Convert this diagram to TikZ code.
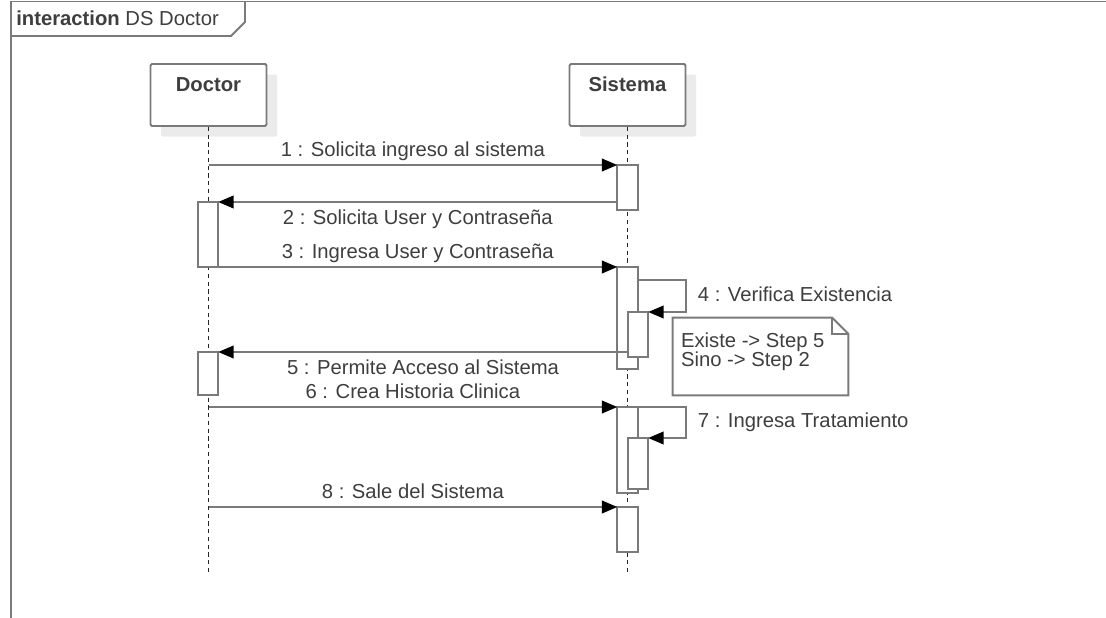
\documentclass[tikz,border=0pt]{standalone}
\usepackage{fontspec}
\setmainfont{Liberation Sans}
\usepackage{xcolor}
\usepackage{tikz}
\usetikzlibrary{arrows.meta}
\usetikzlibrary{shadows}

\definecolor{linegray}{RGB}{122,122,122}
\definecolor{textgray}{RGB}{62,62,62}
\newcommand{\pxu}{0.025cm}

\begin{document}
\begin{tikzpicture}[x=0.025cm, y=-0.025cm,
	font=\fontsize{14.4}{14}\selectfont, text=textgray,
	frame/.style={draw=linegray, line width=1.4pt},
	head/.style={draw=linegray, line width=1.4pt, fill=white, rounded corners=1pt, anchor=north,
		minimum width=116*\pxu, inner xsep=0pt, inner ysep=9.2pt, text height=10.7pt, text depth=15pt,
		drop shadow={shadow xshift=7.5pt, shadow yshift=-7.5pt, fill=black!8, opacity=1}},
	lifeline/.style={draw=black!85, line width=1.3pt, dash pattern=on 3pt off 2.5pt},
	act/.style={draw=linegray, line width=1.4pt, fill=white, anchor=north, inner sep=0pt, outer sep=0pt,
		minimum width=14.5pt, minimum height=#1*\pxu},
	msg/.style={draw=linegray, line width=1.4pt, -{Triangle[length=11pt, width=9pt, black]}},
	lbl/.style={inner sep=0pt, text height=10.5pt, text depth=3pt},
	notebox/.style={minimum width=175*\pxu, minimum height=77*\pxu, inner sep=0pt}]
	\useasboundingbox (0,0) rectangle (1106,618);

	\draw[frame] (11,618) -- (11,1.5) -- (1106,1.5);
	\draw[frame] (245,1.5) -- (245,22) -- (231,36) -- (11,36);
	\node[anchor=west, inner sep=0pt] (titulo) at (16,18) {\textbf{interaction} DS Doctor};

	\node[head] (doctor) at (208.5,63) {\textbf{Doctor}};
	\node[head] (sistema) at (627.5,63) {\textbf{Sistema}};
	\coordinate (doctorfin) at (doctor.south |- 0,572);
	\coordinate (sistemafin) at (sistema.south |- 0,572);
	\draw[lifeline] (doctor.south) -- (doctorfin);
	\draw[lifeline] (sistema.south) -- (sistemafin);

	\node[act=45] (s1) at (627.5,165) {};
	\node[act=65] (d1) at (208,202) {};
	\node[act=102] (s2) at (627.5,267) {};
	\node[act=45] (s2n) at (638,312) {};
	\node[act=43] (d2) at (208,352) {};
	\node[act=86] (s3) at (627.5,407) {};
	\node[act=51] (s3n) at (638,438) {};
	\node[act=45] (s4) at (627.5,507) {};

	\coordinate (m1) at (doctor.south |- s1.north);
	\coordinate (m6) at (doctor.south |- s3.north);
	\coordinate (m8) at (doctor.south |- s4.north);

	\draw[msg] (m1) -- (s1.north west) node[lbl, midway, above=2pt] {1 : Solicita ingreso al sistema};
	\draw[msg] (s1.west |- d1.north) -- (d1.north east) node[lbl, midway, below=4.5pt] {2 : Solicita User y Contraseña};
	\draw[msg] (d1.south east) -- (s2.north west) node[lbl, midway, above=2pt] {3 : Ingresa User y Contraseña};
	\draw[msg] (s2.east |- 0,280) -- ++(48,0) |- (s2n.north east) node[lbl, pos=0.25, right=8pt] {4 : Verifica Existencia};
	\draw[msg] (s2n.west |- d2.north) -- (d2.north east) node[lbl, midway, below=4.5pt] {5 : Permite Acceso al Sistema};
	\draw[msg] (m6) -- (s3.north west) node[lbl, midway, above=2pt] {6 : Crea Historia Clinica};
	\draw[msg] (s3.north east) -- ++(48,0) |- (s3n.north east) node[lbl, pos=0.25, right=8pt] {7 : Ingresa Tratamiento};
	\draw[msg] (m8) -- (s4.north west) node[lbl, midway, above=2pt] {8 : Sale del Sistema};

	\node[notebox] (nota) at (760.5,356.5) {};
	\draw[frame] (nota.north west) -- ([xshift=-0.4cm]nota.north east) -- ([yshift=-0.4cm]nota.north east)
		-- (nota.south east) -- (nota.south west) -- cycle;
	\draw[frame] ([xshift=-0.4cm]nota.north east) |- ([yshift=-0.4cm]nota.north east);
	\node[anchor=north west, align=left, inner sep=0pt] (notatxt) at ([xshift=0.2cm, yshift=-0.36cm]nota.north west) {Existe -> Step 5\\Sino -> Step 2};
\end{tikzpicture}
\end{document}
